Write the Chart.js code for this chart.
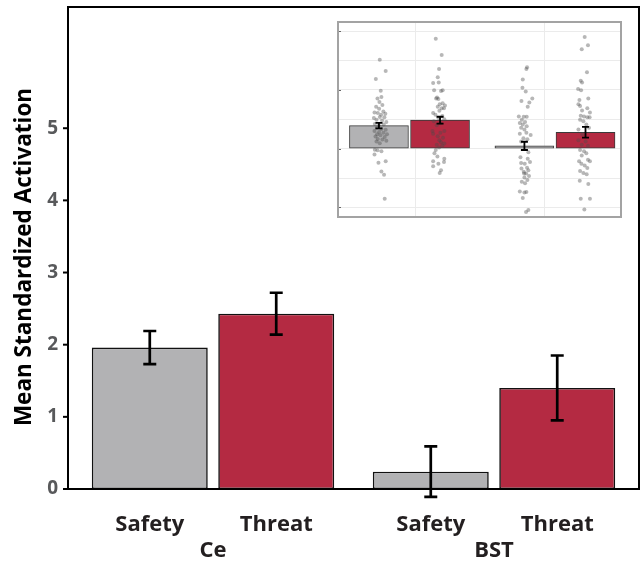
<!DOCTYPE html>
<html>
<head>
<meta charset="utf-8">
<script src="https://cdn.jsdelivr.net/npm/chart.js@4.4.1/dist/chart.umd.min.js"></script>
<style>
  html, body { margin: 0; padding: 0; background: #fff; }
  #wrap { position: relative; width: 642px; height: 564px; }
  #main { position: absolute; left: 0; top: 0; }
  #inset { position: absolute; left: 334px; top: 18px; }
</style>
</head>
<body>
<div id="wrap">
  <canvas id="main" width="642" height="564"></canvas>
  <canvas id="inset" width="291" height="203"></canvas>
</div>
<script>
// ---------- main data ----------
const categories = ['Ce', 'BST'];
const conditions = ['Safety', 'Threat'];
const safetyMeans = [1.96, 0.24];
const threatMeans = [2.43, 1.40];
const safetyErr = [0.23, 0.35];
const threatErr = [0.29, 0.45];
const yTicks = [0, 1, 2, 3, 4, 5];
const yMax = 6.68;
const yTitle = 'Mean Standardized Activation';

// ---------- inset data: [jitter, value] ----------
const insetCeSafety = [[2.5,7.56],[20.5,6.61],[-9.5,5.92],[5.5,4.94],[7.5,4.39],[-4.5,4.28],[1.5,3.97],[10.5,3.72],[-8.5,3.56],[0.5,3.39],[-13.5,3.08],[13.5,3.17],[-3.5,3.03],[6.5,2.89],[19.5,2.97],[-15.5,2.61],[2.5,2.69],[16.5,2.67],[-7.5,2.47],[9.5,2.39],[22.5,2.28],[-12.5,2.11],[-0.5,2.0],[14.5,2.06],[-6.5,1.78],[7.5,1.67],[20.5,1.61],[-13.5,1.5],[0.5,1.42],[13.5,1.36],[-5.5,1.22],[24.5,1.22],[4.5,1.14],[-10.5,1.03],[17.5,1.0],[-3.5,0.83],[10.5,0.78],[22.5,0.67],[-7.5,0.61],[2.5,0.47],[-12.5,-0.08],[-4.5,-0.14],[7.5,-0.22],[-13.5,-0.5],[-1.5,-1.19],[20.5,-1.06],[7.5,-1.94],[15.5,-2.22],[17.5,-4.25]];
const insetCeThreat = [[-13,9.36],[5,7.97],[-3,6.78],[-7,6.08],[-21,5.58],[-4,5.64],[-18,4.97],[3,4.92],[8,4.97],[-9,4.36],[-5,4.22],[-12,4.28],[8,3.86],[-1,3.78],[15,3.67],[-7,3.56],[5,3.44],[12,3.44],[-21,3.03],[-2,3.22],[-14,2.89],[7,2.78],[-5,2.61],[13,2.5],[-19,2.33],[1,2.17],[-10,2.0],[-23,1.5],[1,1.36],[-21,1.28],[13,1.5],[-7,1.06],[9,0.94],[-2,0.72],[3,0.56],[13,0.44],[-10,0.33],[7,0.25],[-3,0.11],[-13,-0.11],[-17,-0.39],[-8,-0.67],[13,-0.86],[12,-1.14],[-21,-1.06],[-5,-1.28],[3,-1.83],[-1,-2.06],[-21,-1.5]];
const insetBstSafety = [[8,6.92],[6,6.78],[-5,5.89],[-6,5.19],[4,4.86],[24,4.28],[-9,4.06],[15,3.94],[10,3.56],[-17,2.75],[-2,2.72],[7,2.72],[-8,2.47],[2,2.28],[-14,2.19],[-5,2.06],[7,1.92],[-10,1.78],[0,1.64],[-14,1.28],[6,1.36],[19,1.17],[-3,0.89],[9,0.81],[-10,0.61],[12,-0.31],[-12,-0.72],[10,-0.86],[1,-1.28],[-9,-1.69],[8,-1.61],[12,-1.83],[-2,-1.97],[5,-2.11],[14,-2.33],[0,-2.44],[9,-2.67],[-8,-2.81],[2,-2.94],[-14,-3.64],[0,-3.72],[6,-3.69],[-5,-4.19],[12,-5.22],[5,-5.39],[-1,-2.11],[-10,-1.22],[17,-1.14]];
const insetBstThreat = [[-2.5,9.5],[7.5,8.8],[-11.5,8.47],[4.5,6.5],[-14.5,5.78],[-10.5,5.64],[-22.5,5.08],[-13.5,4.97],[8.5,4.28],[-18.5,4.14],[-21.5,3.78],[-16.5,3.64],[5.5,3.44],[-10.5,3.25],[13.5,3.08],[-14.5,2.81],[-4.5,2.75],[5.5,2.67],[12.5,2.67],[-16.5,2.47],[-6.5,2.33],[2.5,2.06],[-21.5,1.64],[10.5,1.78],[-9.5,1.22],[-21.5,0.72],[0.5,0.61],[-11.5,0.33],[7.5,0.25],[-16.5,-0.11],[-4.5,-0.22],[2.5,-0.39],[-11.5,-0.58],[7.5,-0.94],[-19.5,-1.06],[13.5,-1.06],[-12.5,-1.28],[-2.5,-1.42],[5.5,-1.64],[-16.5,-1.89],[-6.5,-2.06],[3.5,-2.17],[-17.5,-2.72],[8.5,-3.0],[-14.5,-4.25],[13.5,-4.25],[-3.5,-5.17]];
const insetGroupPos = [1, 2];
const insetCondOffset = [-0.21, 0.21];
const insetJitterUnit = 1 / 442.5;
const insetGridY = [10, 7.5, 5, 2.5, 0, -2.5, -5];
const insetMajorY = [10, 5, 0, -5];
const insetGridX = [1.04, 1.93];
const insetYRange = [-5.81, 10.78];
const insetXRange = [0.5085, 2.454];

const GRAY = '#b2b2b4';
const RED = '#b42a42';
const FONT = '"Open Sans", "DejaVu Sans", sans-serif';
const FRAME_INSET = 4.5; // panel frame extends beyond the category range (ggplot expansion)

const means = [safetyMeans, threatMeans];
const errs = [safetyErr, threatErr];

// ---------- main chart ----------
const mainPlugin = {
  id: 'mainDecor',
  beforeDraw(chart) {
    const c = chart.ctx;
    c.save(); c.fillStyle = '#fff'; c.fillRect(0, 0, chart.width, chart.height); c.restore();
  },
  afterDatasetsDraw(chart) {
    const c = chart.ctx, ys = chart.scales.y;
    c.save();
    c.strokeStyle = '#000'; c.lineWidth = 2.7; c.lineCap = 'butt';
    chart.data.datasets.forEach((ds, di) => {
      chart.getDatasetMeta(di).data.forEach((el, i) => {
        const m = means[di][i], e = errs[di][i];
        const yt = ys.getPixelForValue(m + e), yb = ys.getPixelForValue(m - e);
        const x = el.x, hw = 6.5;
        c.beginPath();
        c.moveTo(x, yt); c.lineTo(x, yb);
        c.moveTo(x - hw, yt); c.lineTo(x + hw, yt);
        c.moveTo(x - hw, yb); c.lineTo(x + hw, yb);
        c.stroke();
      });
    });
    c.restore();
  },
  afterDraw(chart) {
    const c = chart.ctx, a = chart.chartArea, xs = chart.scales.x, ys = chart.scales.y;
    const fl = a.left - FRAME_INSET, fr = a.right + FRAME_INSET;
    c.save();
    // frame
    c.strokeStyle = '#000'; c.lineWidth = 2;
    c.strokeRect(fl, a.top, fr - fl, a.bottom - a.top);
    // y tick marks + labels
    c.lineWidth = 2;
    c.fillStyle = '#58595b';
    c.font = 'bold 19px ' + FONT;
    c.textAlign = 'right'; c.textBaseline = 'middle';
    yTicks.forEach(v => {
      const y = ys.getPixelForValue(v);
      c.beginPath(); c.moveTo(fl - 5, y); c.lineTo(fl, y); c.stroke();
      c.fillText(String(v), fl - 10, y);
    });
    // condition labels
    c.fillStyle = '#231f20';
    c.font = 'bold 22px ' + FONT;
    c.textAlign = 'center'; c.textBaseline = 'middle';
    chart.data.datasets.forEach((ds, di) => {
      chart.getDatasetMeta(di).data.forEach((el) => {
        c.fillText(conditions[di], el.x, 525);
      });
    });
    // group labels
    categories.forEach((g, i) => {
      c.fillText(g, xs.getPixelForValue(i), 551);
    });
    // y title
    c.translate(25, 257);
    c.rotate(-Math.PI / 2);
    c.font = 'bold 22.5px ' + FONT;
    c.fillStyle = '#000';
    c.fillText(yTitle, 0, 0);
    c.restore();
  }
};

new Chart(document.getElementById('main'), {
  type: 'bar',
  data: {
    labels: categories,
    datasets: conditions.map((name, di) => ({
      label: name,
      data: means[di],
      backgroundColor: di === 0 ? GRAY : RED,
      borderColor: '#111',
      borderWidth: 1.6,
      borderSkipped: false,
      categoryPercentage: 0.9,
      barPercentage: 0.917
    }))
  },
  options: {
    responsive: false,
    animation: false,
    devicePixelRatio: 1,
    layout: { padding: { left: 0, top: 7, right: 7.5, bottom: 0 } },
    plugins: { legend: { display: false }, tooltip: { enabled: false } },
    scales: {
      x: {
        ticks: { display: false },
        grid: { display: false },
        border: { display: false },
        afterFit(s) { s.height = 75; }
      },
      y: {
        min: 0, max: yMax,
        afterBuildTicks(s) { s.ticks = yTicks.map(v => ({ value: v })); },
        afterFit(s) { s.width = 72.5; },
        ticks: { display: false },
        grid: { display: false },
        border: { display: false }
      }
    }
  },
  plugins: [mainPlugin]
});

// ---------- inset chart ----------
const insetPlugin = {
  id: 'insetDecor',
  beforeDraw(chart) {
    const c = chart.ctx;
    c.save(); c.fillStyle = '#fff'; c.fillRect(0, 0, chart.width, chart.height); c.restore();
  },
  afterDatasetsDraw(chart) {
    const c = chart.ctx, ys = chart.scales.y, xs = chart.scales.x;
    c.save();
    c.strokeStyle = '#000'; c.lineWidth = 1.8;
    [0, 1].forEach(di => {
      insetGroupPos.forEach((g, i) => {
        const m = means[di][i], e = errs[di][i];
        const x = xs.getPixelForValue(g + insetCondOffset[di]);
        const yt = ys.getPixelForValue(m + e), yb = ys.getPixelForValue(m - e);
        const hw = 3.5;
        c.beginPath();
        c.moveTo(x, yt); c.lineTo(x, yb);
        c.moveTo(x - hw, yt); c.lineTo(x + hw, yt);
        c.moveTo(x - hw, yb); c.lineTo(x + hw, yb);
        c.stroke();
      });
    });
    c.restore();
  },
  afterDraw(chart) {
    const c = chart.ctx, a = chart.chartArea, ys = chart.scales.y;
    c.save();
    c.strokeStyle = '#666'; c.lineWidth = 1;
    insetMajorY.forEach(v => {
      const y = Math.round(ys.getPixelForValue(v)) + 0.5;
      c.beginPath(); c.moveTo(a.left, y); c.lineTo(a.left + 3, y); c.stroke();
    });
    c.strokeStyle = '#a3a3a3'; c.lineWidth = 2;
    c.strokeRect(a.left, a.top, a.right - a.left, a.bottom - a.top);
    c.restore();
  }
};

const clusters = [
  [insetCeSafety, 0, 0], [insetCeThreat, 0, 1],
  [insetBstSafety, 1, 0], [insetBstThreat, 1, 1]
];

const pointSets = clusters.map(([pts, gi, ci]) => ({
  type: 'scatter',
  data: pts.map(([j, v]) => ({ x: insetGroupPos[gi] + insetCondOffset[ci] + j * insetJitterUnit, y: v })),
  pointRadius: 2,
  pointBackgroundColor: 'rgba(75,75,75,0.4)',
  pointBorderWidth: 0,
  order: 0
}));

const barSets = [0, 1].map(ci => ({
  type: 'bar',
  data: insetGroupPos.map((g, i) => ({ x: g + insetCondOffset[ci], y: means[ci][i] })),
  backgroundColor: ci === 0 ? GRAY : RED,
  borderColor: '#3a3a3a',
  borderWidth: 1,
  borderSkipped: false,
  barThickness: 59,
  grouped: false,
  order: 1
}));

new Chart(document.getElementById('inset'), {
  type: 'bar',
  data: { datasets: [...pointSets, ...barSets] },
  options: {
    responsive: false,
    animation: false,
    devicePixelRatio: 1,
    layout: { padding: 2 },
    plugins: { legend: { display: false }, tooltip: { enabled: false } },
    scales: {
      x: {
        type: 'linear', min: insetXRange[0], max: insetXRange[1],
        offset: false,
        afterBuildTicks(s) { s.ticks = insetGridX.map(v => ({ value: v })); },
        afterFit(s) { s.height = 0; },
        ticks: { display: false },
        grid: { color: '#ebebeb', drawTicks: false, lineWidth: 1, offset: false },
        border: { display: false }
      },
      y: {
        type: 'linear', min: insetYRange[0], max: insetYRange[1],
        afterBuildTicks(s) { s.ticks = insetGridY.map(v => ({ value: v })); },
        afterFit(s) { s.width = 0; },
        ticks: { display: false },
        grid: { color: '#ebebeb', drawTicks: false, lineWidth: 1 },
        border: { display: false }
      }
    }
  },
  plugins: [insetPlugin]
});
</script>
</body>
</html>
